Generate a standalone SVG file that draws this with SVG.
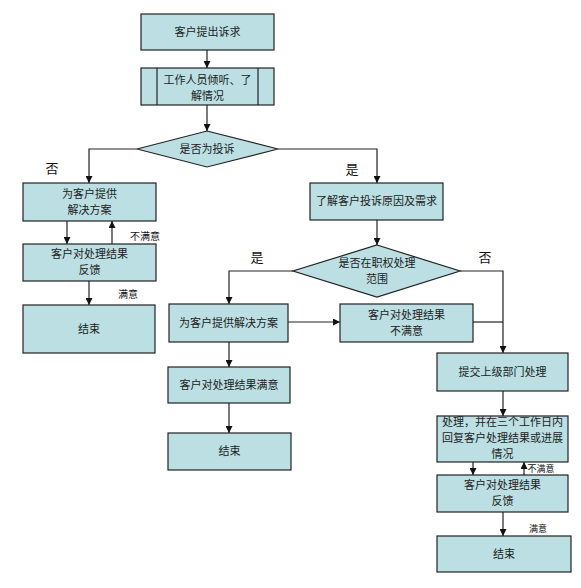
<svg xmlns="http://www.w3.org/2000/svg" width="581" height="588" viewBox="0 0 581 588">
<defs>
<style>
.n{fill:#bbdfe3;stroke:#222;stroke-width:1.2}
.t{font-family:"Noto Sans CJK SC","Liberation Sans",sans-serif;font-size:11px;fill:#222;text-anchor:middle}
.l{font-family:"Noto Sans CJK SC","Liberation Sans",sans-serif;font-size:13px;fill:#111;text-anchor:middle}
.s{font-family:"Noto Sans CJK SC","Liberation Sans",sans-serif;font-size:10px;fill:#111;text-anchor:middle}
.c{fill:none;stroke:#222;stroke-width:1.2}
</style>
<marker id="a" viewBox="0 0 10 10" refX="10" refY="5" markerWidth="7" markerHeight="7" orient="auto" markerUnits="userSpaceOnUse"><path d="M0,0 L10,5 L0,10 z" fill="#111"/></marker>
</defs>
<rect width="581" height="588" fill="#fff"/>
<g id="connectors">
<path class="c" d="M207,50 V68" marker-end="url(#a)"/>
<path class="c" d="M207,105 V131" marker-end="url(#a)"/>
<path class="c" d="M137,149 H89 V183" marker-end="url(#a)"/>
<path class="c" d="M278,149 H377 V183" marker-end="url(#a)"/>
<path class="c" d="M67,221 V244" marker-end="url(#a)"/>
<path class="c" d="M112,244 V221" marker-end="url(#a)"/>
<path class="c" d="M89,281 V305" marker-end="url(#a)"/>
<path class="c" d="M377,220 V245" marker-end="url(#a)"/>
<path class="c" d="M293,271 H229 V304" marker-end="url(#a)"/>
<path class="c" d="M460,271 H503 V353" marker-end="url(#a)"/>
<path class="c" d="M288,322 H340" marker-end="url(#a)"/>
<path class="c" d="M473,322 H503"/>
<path class="c" d="M229,342 V367" marker-end="url(#a)"/>
<path class="c" d="M229,403 V433" marker-end="url(#a)"/>
<path class="c" d="M503,391 V416" marker-end="url(#a)"/>
<path class="c" d="M473,462 V475" marker-end="url(#a)"/>
<path class="c" d="M524,475 V462" marker-end="url(#a)"/>
<path class="c" d="M503,512 V536" marker-end="url(#a)"/>
<text class="l" x="52" y="173">否</text>
<text class="l" x="352" y="174">是</text>
<text class="s" x="145" y="240">不满意</text>
<text class="s" x="128" y="298">满意</text>
<text class="l" x="257" y="262">是</text>
<text class="l" x="485" y="262">否</text>
<text class="s" x="541" y="472" style="font-size:9px">不满意</text>
<text class="s" x="538" y="532" style="font-size:9px">满意</text>
</g>
<g id="n1"><rect class="n" x="141" y="14" width="133" height="36"/><text class="t" x="207.5" y="36">客户提出诉求</text></g>
<g id="n2"><rect class="n" x="141" y="68" width="133" height="37"/><line class="c" x1="157" y1="68" x2="157" y2="105"/><line class="c" x1="258" y1="68" x2="258" y2="105"/><text class="t" x="207.5" y="84">工作人员倾听、了</text><text class="t" x="207.5" y="100">解情况</text></g>
<g id="d1"><polygon class="n" points="207,131 278,149 207,167 137,149"/><text class="t" x="207" y="153">是否为投诉</text></g>
<g id="n3"><rect class="n" x="23" y="183" width="133" height="38"/><text class="t" x="89.5" y="198">为客户提供</text><text class="t" x="89.5" y="214">解决方案</text></g>
<g id="n4"><rect class="n" x="23" y="244" width="133" height="37"/><text class="t" x="89.5" y="258">客户对处理结果</text><text class="t" x="89.5" y="274">反馈</text></g>
<g id="n5"><rect class="n" x="23" y="305" width="132" height="48"/><text class="t" x="89" y="333">结束</text></g>
<g id="n6"><rect class="n" x="310" y="183" width="133" height="37"/><text class="t" x="376.5" y="205">了解客户投诉原因及需求</text></g>
<g id="d2"><polygon class="n" points="377,245 460,271 377,297 293,271"/><text class="t" x="377" y="267">是否在职权处理</text><text class="t" x="377" y="283">范围</text></g>
<g id="n7"><rect class="n" x="169" y="304" width="119" height="38"/><text class="t" x="228.5" y="327">为客户提供解决方案</text></g>
<g id="n8"><rect class="n" x="340" y="304" width="133" height="38"/><text class="t" x="406.5" y="319">客户对处理结果</text><text class="t" x="406.5" y="335">不满意</text></g>
<g id="n9"><rect class="n" x="168" y="367" width="122" height="36"/><text class="t" x="229" y="389">客户对处理结果满意</text></g>
<g id="n10"><rect class="n" x="168" y="433" width="123" height="37"/><text class="t" x="229.5" y="455">结束</text></g>
<g id="n11"><rect class="n" x="437" y="353" width="131" height="38"/><text class="t" x="502.5" y="376">提交上级部门处理</text></g>
<g id="n12"><rect class="n" x="437" y="416" width="131" height="46"/><text class="t" x="502.5" y="426">处理，并在三个工作日内</text><text class="t" x="502.5" y="442">回复客户处理结果或进展</text><text class="t" x="502.5" y="458">情况</text></g>
<g id="n13"><rect class="n" x="437" y="475" width="131" height="37"/><text class="t" x="502.5" y="489">客户对处理结果</text><text class="t" x="502.5" y="505">反馈</text></g>
<g id="n14"><rect class="n" x="437" y="536" width="134" height="36"/><text class="t" x="504" y="558">结束</text></g>
</svg>
